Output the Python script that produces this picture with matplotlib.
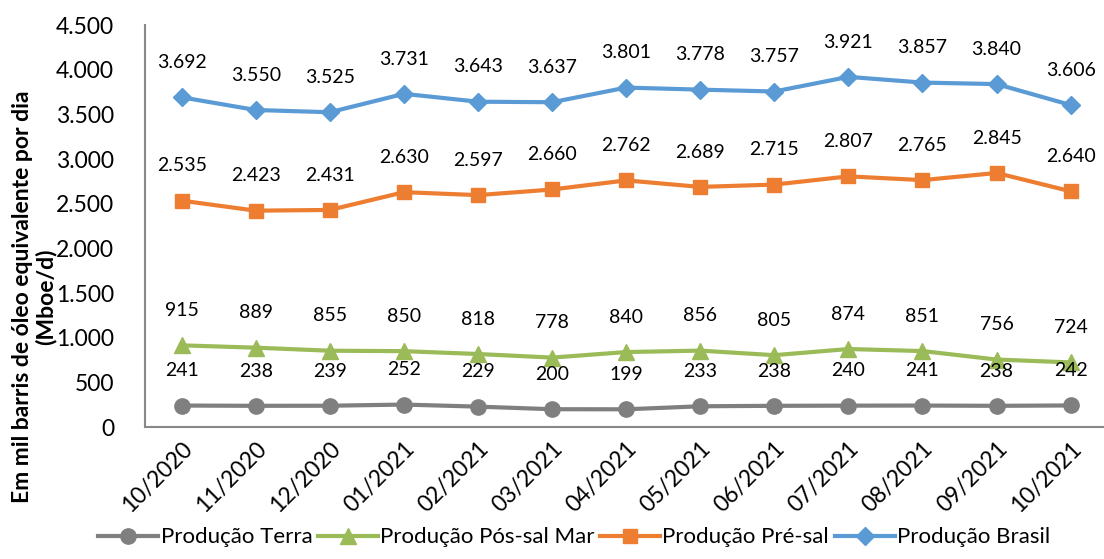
import matplotlib
matplotlib.use("Agg")
import matplotlib.pyplot as plt
from matplotlib.ticker import FuncFormatter

meses = ["10/2020", "11/2020", "12/2020", "01/2021", "02/2021", "03/2021", "04/2021",
         "05/2021", "06/2021", "07/2021", "08/2021", "09/2021", "10/2021"]
terra = [241, 238, 239, 252, 229, 200, 199, 233, 238, 240, 241, 238, 242]
pos_sal = [915, 889, 855, 850, 818, 778, 840, 856, 805, 874, 851, 756, 724]
pre_sal = [2535, 2423, 2431, 2630, 2597, 2660, 2762, 2689, 2715, 2807, 2765, 2845, 2640]
brasil = [3692, 3550, 3525, 3731, 3643, 3637, 3801, 3778, 3757, 3921, 3857, 3840, 3606]

plt.rcParams['font.family'] = ['Lato', 'DejaVu Sans']


def br(v, pos=None):
    return f"{int(round(v)):,}".replace(",", ".")


fig = plt.figure(figsize=(11.04, 5.59), dpi=100)
ax = fig.add_axes([0.131, 0.236, 0.869, 0.719])

x = list(range(len(meses)))
series = [
    (terra, "Produção Terra", "#7f7f7f", "o", 11),
    (pos_sal, "Produção Pós-sal Mar", "#9bbb59", "^", 11),
    (pre_sal, "Produção Pré-sal", "#ed7d31", "s", 10),
    (brasil, "Produção Brasil", "#5b9bd5", "D", 9),
]
for vals, nome, cor, mk, ms in series:
    ax.plot(x, vals, color=cor, lw=3, marker=mk, markersize=ms, label=nome)
    for xi, v in zip(x, vals):
        ax.annotate(br(v), (xi, v), xytext=(0, 25), textcoords="offset points",
                    ha="center", va="center", fontsize=14, color="black")

ax.set_ylim(0, 4500)
ax.set_xlim(-0.5, 12.45)
ax.set_yticks(range(0, 4501, 500))
ax.yaxis.set_major_formatter(FuncFormatter(br))
ax.set_xticks(x)
ax.set_xticklabels(meses, rotation=45, ha="right", rotation_mode="anchor")
ax.tick_params(axis="both", length=0, labelsize=16.5)
ax.tick_params(axis="x", pad=8)
ax.tick_params(axis="y", pad=22)
for s in ["top", "right"]:
    ax.spines[s].set_visible(False)
for s in ["left", "bottom"]:
    ax.spines[s].set_color("#888888")
    ax.spines[s].set_linewidth(1.5)

fig.text(0.031, 1 - 297 / 559, "Em mil barris de óleo equivalente por dia\n(Mboe/d)",
         rotation=90, ha="center", va="center", fontsize=16.5, fontweight="bold",
         multialignment="center", linespacing=1.1)

fig.legend(loc="lower center", bbox_to_anchor=(0.52, -0.015), ncol=4, frameon=False,
           fontsize=16, handlelength=2.7, columnspacing=0.25, handletextpad=0.1)

fig.savefig("out.png", dpi=100)
